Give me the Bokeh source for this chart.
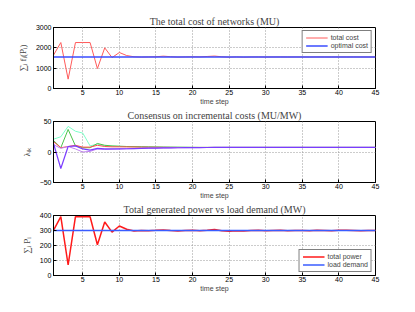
from bokeh.plotting import figure
from bokeh.layouts import column
from bokeh.models import Range1d, Legend, LegendItem, FixedTicker
from bokeh.embed import file_html
from bokeh.resources import INLINE

steps = list(range(1, 46))
x_ticks = [5, 10, 15, 20, 25, 30, 35, 40, 45]

# Panel 1: total cost of networks (MU)
cost_total = [1640, 2260, 460, 2260, 2260, 2260, 980, 2000, 1520, 1770,
              1620, 1560, 1545, 1555, 1560, 1590, 1565, 1545, 1555, 1560,
              1555, 1575, 1595, 1560, 1540, 1555, 1540, 1550, 1552, 1548,
              1550, 1553, 1549, 1551, 1550, 1548, 1552, 1550, 1549, 1551,
              1550, 1552, 1550, 1549, 1550]
cost_optimal = [1550] * 45
cost_ticks = [0, 1000, 2000, 3000]

# Panel 2: consensus on incremental costs (MU/MW)
lam_cyan = [21, 25, 42, 34, 31, 10, 13, 10, 9.5, 9.2, 9.0, 8.8, 8.6, 8.4, 8.2,
            8.0, 7.9, 7.8, 7.7, 7.6, 7.5, 7.5, 7.5, 7.5, 7.5, 7.5, 7.5, 7.5, 7.5, 7.5,
            7.5, 7.5, 7.5, 7.5, 7.5, 7.5, 7.5, 7.5, 7.5, 7.5, 7.5, 7.5, 7.5, 7.5, 7.5]
lam_green = [19, 7, 37, 10, 7, 7, 14, 11, 10, 9.5, 9.0, 8.8, 8.6, 8.4, 8.2,
             8.0, 7.9, 7.8, 7.7, 7.6, 7.5, 7.5, 7.5, 7.5, 7.5, 7.5, 7.5, 7.5, 7.5, 7.5,
             7.5, 7.5, 7.5, 7.5, 7.5, 7.5, 7.5, 7.5, 7.5, 7.5, 7.5, 7.5, 7.5, 7.5, 7.5]
lam_red = [17, 7, 9, 11, 8, 8, 11, 9, 8.5, 8.5, 8.3, 8.2, 8.0, 7.9, 7.8,
           7.7, 7.6, 7.5, 7.5, 7.5, 7.5, 7.5, 7.5, 7.5, 7.5, 7.5, 7.5, 7.5, 7.5, 7.5,
           7.5, 7.5, 7.5, 7.5, 7.5, 7.5, 7.5, 7.5, 7.5, 7.5, 7.5, 7.5, 7.5, 7.5, 7.5]
lam_purple = [14, -27, 9, 10, 5, 3, 6, 5, 5, 5, 5.3, 5.6, 5.9, 6.2, 6.4,
              6.6, 6.8, 7.0, 7.1, 7.2, 7.3, 7.4, 7.5, 7.5, 7.5, 7.5, 7.5, 7.5, 7.5, 7.5,
              7.5, 7.5, 7.5, 7.5, 7.5, 7.5, 7.5, 7.5, 7.5, 7.5, 7.5, 7.5, 7.5, 7.5, 7.5]
lam_violet = [12, 6, 9, 5, 0, 1, 5, 4, 4.5, 5, 5.3, 5.6, 5.9, 6.2, 6.4,
              6.6, 6.8, 7.0, 7.1, 7.2, 7.3, 7.4, 7.5, 7.5, 7.5, 7.5, 7.5, 7.5, 7.5, 7.5,
              7.5, 7.5, 7.5, 7.5, 7.5, 7.5, 7.5, 7.5, 7.5, 7.5, 7.5, 7.5, 7.5, 7.5, 7.5]
lam_ticks = [-50, 0, 50]

# Panel 3: total generated power vs load demand (MW)
power_total = [300, 392, 70, 392, 392, 392, 205, 357, 289, 330,
               308, 296, 300, 299, 301, 304, 300, 297, 300, 301,
               299, 302, 306, 298, 295, 299, 296, 300, 301, 299,
               300, 301, 299, 300, 300, 299, 301, 300, 299, 302,
               301, 300, 299, 300, 300]
load_demand = [300] * 45
power_ticks = [0, 100, 200, 300, 400]

SANS = "Liberation Sans"
SERIF = "Liberation Serif"


def make_fig(height, yr, yticks, title, ylabel, top, bottom):
    p = figure(width=398, height=height, x_range=Range1d(1, 45), y_range=Range1d(*yr),
               output_backend="svg", toolbar_location=None,
               min_border_left=53, min_border_right=23,
               min_border_top=top, min_border_bottom=bottom)
    p.title.text = title
    p.title.align = "center"
    p.title.text_font = SERIF
    p.title.text_font_size = "10px"
    p.title.text_font_style = "normal"
    p.title.standoff = 1
    p.outline_line_color = "black"
    p.outline_line_alpha = 1
    p.background_fill_color = "white"
    p.border_fill_color = "white"
    for ax in (p.xaxis[0], p.yaxis[0]):
        ax.major_tick_in = 3
        ax.major_tick_out = 0
        ax.minor_tick_line_color = None
        ax.axis_line_color = "black"
        ax.major_tick_line_color = "black"
        ax.major_label_text_font = SANS
        ax.major_label_text_font_size = "7px"
        ax.major_label_text_color = "black"
    p.xaxis.ticker = FixedTicker(ticks=x_ticks)
    p.yaxis.ticker = FixedTicker(ticks=yticks)
    p.xaxis.major_label_standoff = 1
    p.yaxis.major_label_standoff = 2
    p.xaxis.axis_label = "time step"
    p.xaxis.axis_label_text_font = SANS
    p.xaxis.axis_label_text_font_size = "7px"
    p.xaxis.axis_label_text_font_style = "normal"
    p.xaxis.axis_label_standoff = 0
    p.yaxis.axis_label = ylabel
    p.yaxis.axis_label_text_font = SERIF
    p.yaxis.axis_label_text_font_size = "9px"
    p.yaxis.axis_label_text_font_style = "normal"
    p.yaxis.axis_label_standoff = 5
    p.xgrid.ticker = FixedTicker(ticks=x_ticks)
    p.ygrid.ticker = FixedTicker(ticks=yticks)
    for g in (p.xgrid[0], p.ygrid[0]):
        g.grid_line_color = "#999999"
        g.grid_line_dash = "1 2"
        g.grid_line_width = 1
    return p


def style_legend(leg, loc):
    leg.location = loc
    leg.margin = 3
    leg.padding = 3
    leg.spacing = 1
    leg.label_height = 7
    leg.glyph_height = 7
    leg.glyph_width = 22
    leg.label_standoff = 3
    leg.label_text_font = SANS
    leg.label_text_font_size = "7px"
    leg.border_line_color = "black"
    leg.border_line_width = 1
    leg.background_fill_alpha = 1


p1 = make_fig(107, (0, 3000), cost_ticks, "The total cost of networks (MU)",
              "∑ᵢ fᵢ(Pᵢ)", 27, 19)
r1 = p1.line(steps, cost_total, line_color="#ff5a5a", line_width=1)
r2 = p1.line(steps, cost_optimal, line_color="#3a4dff", line_width=1.6)
leg1 = Legend(items=[LegendItem(label="total cost", renderers=[r1]),
                     LegendItem(label="optimal cost", renderers=[r2])])
p1.add_layout(leg1, "center")
style_legend(leg1, "top_right")

p2 = make_fig(94, (-50, 50), lam_ticks, "Consensus on incremental costs (MU/MW)",
              "λᵢₖ", 14, 19)
p2.line(steps, lam_cyan, line_color="#7dffc8", line_width=1)
p2.line(steps, lam_green, line_color="#4cc24c", line_width=1)
p2.line(steps, lam_red, line_color="#ff5050", line_width=1)
p2.line(steps, lam_violet, line_color="#c080f0", line_width=1)
p2.line(steps, lam_purple, line_color="#7a3cff", line_width=1.2)

p3 = make_fig(95, (0, 400), power_ticks, "Total generated power vs load demand (MW)",
              "∑ᵢ Pᵢ", 13, 21)
r3 = p3.line(steps, power_total, line_color="#ff1a1a", line_width=1.5)
r4 = p3.line(steps, load_demand, line_color="#3a5cff", line_width=1.5)
leg3 = Legend(items=[LegendItem(label="total power", renderers=[r3]),
                     LegendItem(label="load demand", renderers=[r4])])
p3.add_layout(leg3, "center")
style_legend(leg3, "bottom_right")

layout = column(p1, p2, p3, spacing=0)
open("out.html", "w").write(file_html(layout, INLINE))
